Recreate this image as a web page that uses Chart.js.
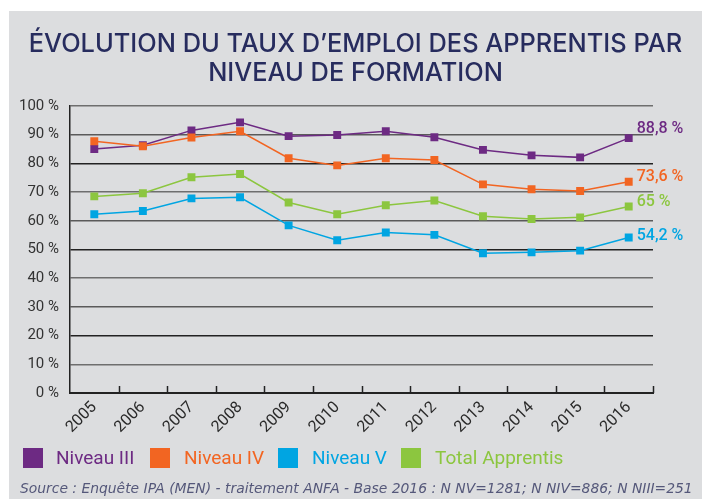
<!DOCTYPE html>
<html><head><meta charset="utf-8">
<script src="https://cdn.jsdelivr.net/npm/chart.js@4/dist/chart.umd.min.js"></script>
<style>
html,body{margin:0;padding:0;background:#fff;width:702px;height:499px;overflow:hidden;}
#panel{position:absolute;left:9px;top:11px;width:693px;height:488px;background:#dcdddf;}
#c{position:absolute;left:0;top:0;}
.t{position:absolute;left:9px;width:693px;text-align:center;color:#272c5e;font-family:"Inter",sans-serif;font-weight:500;white-space:nowrap;line-height:1;}
#leg{position:absolute;left:23px;top:448px;font-family:Roboto,sans-serif;font-size:19px;white-space:nowrap;}
#leg span.b{position:absolute;top:0;width:20px;height:20px;}
#leg span.l{position:absolute;top:-2px;line-height:24px;}
#src{position:absolute;left:20px;top:482px;font-family:"DejaVu Sans",sans-serif;font-style:italic;font-weight:300;color:#55587a;white-space:nowrap;line-height:1;}
</style></head>
<body>
<div id="panel"></div>
<canvas id="c" width="702" height="499"></canvas>
<div class="t" id="t1" style="top:30px">ÉVOLUTION DU TAUX D’EMPLOI DES APPRENTIS PAR</div>
<div class="t" id="t2" style="top:59px">NIVEAU DE FORMATION</div>
<div id="leg"></div>
<div id="src">Source : Enquête IPA (MEN) - traitement ANFA - Base 2016 : N NV=1281; N NIV=886; N NIII=251</div>
<script>
const years = ['2005','2006','2007','2008','2009','2010','2011','2012','2013','2014','2015','2016'];
const niveauIII = [85.0, 86.3, 91.5, 94.3, 89.5, 89.9, 91.2, 89.1, 84.7, 82.8, 82.1, 88.8];
const niveauIV  = [87.7, 86.0, 89.0, 91.2, 81.8, 79.3, 81.8, 81.2, 72.7, 71.0, 70.4, 73.6];
const niveauV   = [62.3, 63.4, 67.8, 68.2, 58.4, 53.2, 55.9, 55.1, 48.7, 49.0, 49.6, 54.2];
const totalApp  = [68.5, 69.6, 75.2, 76.3, 66.4, 62.3, 65.4, 67.1, 61.6, 60.6, 61.2, 65.0];
const seriesNames = ['Niveau III','Niveau IV','Niveau V','Total Apprentis'];
const endLabels = ['88,8 %','73,6 %','54,2 %','65 %'];
const yTicks = [0,10,20,30,40,50,60,70,80,90,100];

const colors = ['#6d2a83','#f26522','#00a5e2','#8cc63f'];
const labelDy = [-5,-1,3,0];

function fit(el, target){
  let fs = 20; el.style.fontSize = fs+'px';
  const r = document.createRange(); r.selectNodeContents(el);
  const tw = r.getBoundingClientRect().width;
  return fs*target/tw;
}
(function(){
  const t1=document.getElementById('t1'), t2=document.getElementById('t2');
  const fs = fit(t1,654);
  t1.style.fontSize=fs+'px'; t2.style.fontSize=fs+'px';
  const s=document.getElementById('src');
  const fs2 = fit(s,673); s.style.fontSize=fs2+'px';
})();

(function(){
  const leg=document.getElementById('leg');
  const boxX=[0,127,255,378], txtX=[33,161,289,412];
  seriesNames.forEach((n,i)=>{
    const b=document.createElement('span');b.className='b';b.style.left=boxX[i]+'px';b.style.background=colors[i];leg.appendChild(b);
    const l=document.createElement('span');l.className='l';l.style.left=txtX[i]+'px';l.style.color=colors[i];l.textContent=n;leg.appendChild(l);
  });
})();

const extras = {
  id:'extras',
  afterDatasetsDraw(chart){
    const ctx=chart.ctx, x=chart.scales.x, a=chart.chartArea;
    ctx.save();
    ctx.strokeStyle='#222'; ctx.lineWidth=1.5;
    const n=years.length;
    for(let i=0;i<n;i++){
      const px = (i<n-1) ? (x.getPixelForValue(i)+x.getPixelForValue(i+1))/2 : a.right;
      ctx.beginPath(); ctx.moveTo(Math.round(px)+0.5,a.bottom); ctx.lineTo(Math.round(px)+0.5,a.bottom-7); ctx.stroke();
    }
    ctx.font='500 16px Roboto'; ctx.textAlign='left'; ctx.textBaseline='alphabetic';
    chart.data.datasets.forEach((ds,i)=>{
      const meta=chart.getDatasetMeta(i); const p=meta.data[meta.data.length-1];
      ctx.fillStyle=ds.borderColor;
      ctx.fillText(ds.endLabel, p.x+8, p.y+ds.labelDy);
    });
    ctx.restore();
  }
};

const allData=[niveauIII,niveauIV,niveauV,totalApp];
const datasets=[2,3,1,0].map(i=>({
  label:seriesNames[i], data:allData[i], borderColor:colors[i], backgroundColor:colors[i],
  borderWidth:1.5, pointStyle:'rect', pointRadius:5.6, pointBorderWidth:0, pointHoverRadius:5.6,
  tension:0, endLabel:endLabels[i], labelDy:labelDy[i]
}));

new Chart(document.getElementById('c'),{
  type:'line',
  data:{labels:years,datasets},
  options:{
    responsive:false, animation:false, events:[],
    layout:{padding:{top:106,right:49,left:0,bottom:0}},
    plugins:{legend:{display:false},title:{display:false},tooltip:{enabled:false}},
    scales:{
      x:{type:'category',offset:true,
        grid:{display:false,drawTicks:false},
        border:{display:true,color:'#222',width:2},
        ticks:{color:'#2a2a2a',font:{family:'Roboto',size:16},minRotation:45,maxRotation:45,padding:5},
        afterFit(s){s.height=106;}
      },
      y:{min:0,max:100,
        afterBuildTicks(s){s.ticks=yTicks.map(v=>({value:v}));},
        grid:{drawTicks:false,lineWidth:1.5,
          color:(c)=>{const v=c.tick?c.tick.value:0; if(v===0) return 'rgba(0,0,0,0)'; return (v%30===20)?'#222':((v%30===0)?'#5a5a5a':'#6e6e6e');}},
        border:{display:true,color:'#222',width:1.5},
        ticks:{color:'#333',font:{family:'Roboto',size:15},padding:11,callback:v=>v+' %'},
        afterFit(s){s.width=70;}
      }
    }
  },
  plugins:[extras]
});
</script>
</body></html>
